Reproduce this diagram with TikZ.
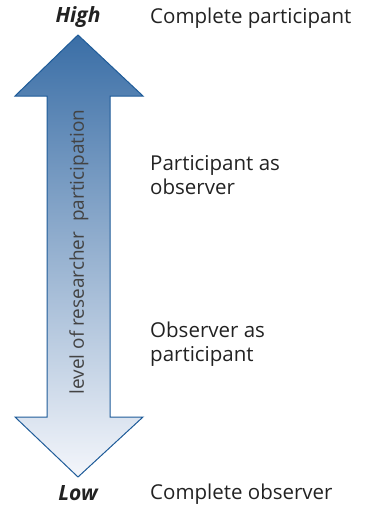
\documentclass[tikz,border=0pt]{standalone}
\usepackage{fontspec}
\setmainfont{Open Sans}
\definecolor{arrtop}{HTML}{3A6EA6}
\definecolor{arrbot}{HTML}{F4F6FB}
\definecolor{arredge}{HTML}{1F5C99}
\definecolor{txt}{HTML}{222222}
\begin{document}
\begin{tikzpicture}[x=1pt,y=-1pt,
  lbl/.style={anchor=west,text=txt,font=\fontsize{20.5}{24}\selectfont,align=left,inner sep=0pt},
  endlbl/.style={text=txt,font=\fontsize{21}{24}\selectfont\bfseries\itshape,inner sep=0pt},
  bigarrow/.style={draw=arredge,line width=1pt,top color=arrtop,bottom color=arrbot,line join=miter}]
\useasboundingbox (0,0) rectangle (367,506);
\path[bigarrow] (78,35) -- (143,96) -- (110,96) -- (110,417) -- (143,417) -- (78,477)
  -- (15,417) -- (47,417) -- (47,96) -- (15,96) -- cycle;
\node[rotate=90,text=txt!85,font=\fontsize{19}{22}\selectfont,inner sep=0pt] (axis) at (79,252) {level of researcher\ \ participation};
\node[endlbl] (high) at (78,17) {High};
\node[endlbl] (low) at (78,493) {Low};
\node[lbl] (cp) at (150,18) {Complete participant};
\node[lbl] (pao) at (150,175) {Participant as\\observer};
\node[lbl] (oap) at (150,344) {Observer as\\participant};
\node[lbl] (co) at (150,494) {Complete observer};
\end{tikzpicture}
\end{document}
